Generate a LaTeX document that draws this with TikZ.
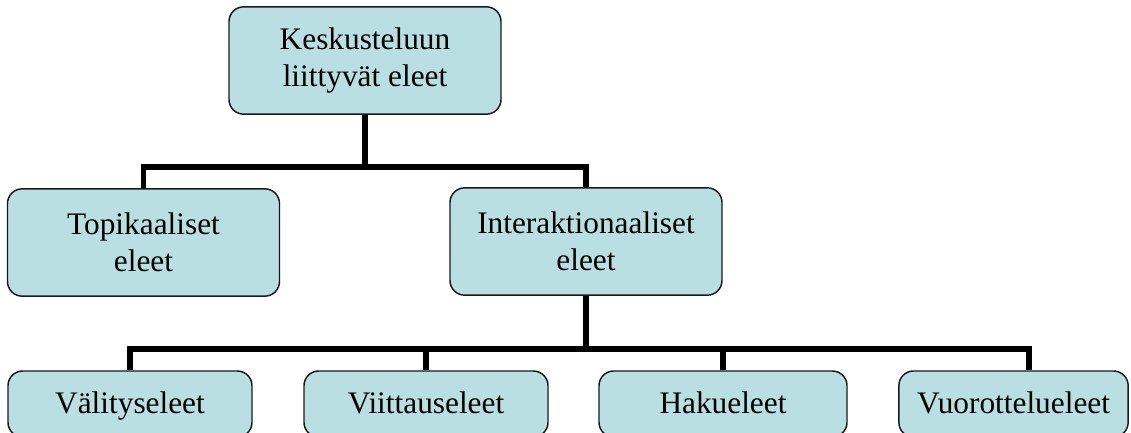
\documentclass[tikz,border=0pt]{standalone}
\usepackage{fontspec}
\setmainfont{Liberation Serif}
\usepackage{tikz}
\definecolor{boxfill}{RGB}{185,223,227}

\begin{document}
\begin{tikzpicture}[
        x=0.75pt, y=-0.75pt,
        box/.style={rectangle, rounded corners=11pt, draw=black!90, fill=boxfill, line width=1.1pt, minimum width=204pt, minimum height=80.5pt, align=center, inner sep=0pt, font=\fontsize{23.5}{27.8}\selectfont},
        leaf/.style={box, minimum width=183pt, minimum height=49.5pt, text height=14pt, text depth=0pt},
        conn/.style={line width=3.8pt, draw=black, line join=miter}
    ]

    \clip (0,0) rectangle (1131,432);
    \useasboundingbox (0,0) rectangle (1131,432);

    % Nodes
    \node[box] (kes) at (365,60.5) {Keskusteluun\\liittyvät eleet};
    \node[box] (topi) at (143.5,242.5) {Topikaaliset\\eleet};
    \node[box] (inter) at (586,241.5) {Interaktionaaliset\\eleet};

    \node[leaf] (vali) at (130,404) {Välityseleet};
    \node[leaf] (viit) at (426,404) {Viittauseleet};
    \node[leaf, minimum width=186pt] (haku) at (723,404) {Hakueleet};
    \node[leaf, minimum width=172pt] (vuor) at (1013.5,404) {Vuorottelueleet};

    % Bus points
    \coordinate (bus1) at (kes.south |- 0,167);
    \coordinate (bus2) at (inter.south |- 0,349);

    % Upper level
    \draw[conn] (kes.south) -- (bus1);
    \draw[conn] (topi.north) |- (bus1);
    \draw[conn] (inter.north) |- (bus1);

    % Lower level
    \draw[conn] (inter.south) -- (bus2);
    \draw[conn] (vali.north) |- (bus2);
    \draw[conn] (viit.north) |- (bus2);
    \draw[conn] (haku.north) |- (bus2);
    \draw[conn] ([xshift=11.6pt]vuor.north) |- (bus2);

    \end{tikzpicture}
\end{document}
